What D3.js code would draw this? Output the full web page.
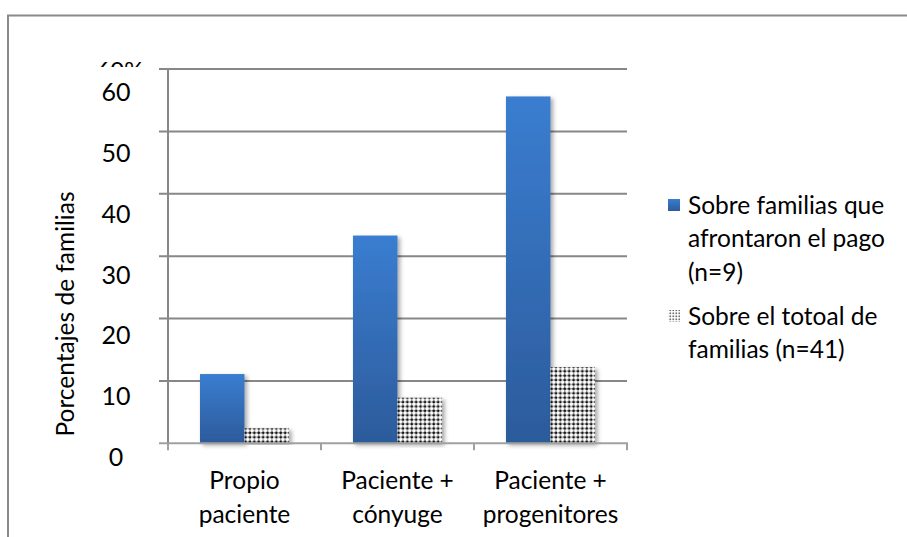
<!DOCTYPE html>
<html>
<head>
<meta charset="utf-8">
<script src="https://cdn.jsdelivr.net/npm/d3@7"></script>
<style>
  html, body { margin: 0; padding: 0; background: #fff; }
  svg { display: block; }
  text { font-family: Lato, "Liberation Sans", sans-serif; fill: #000; }
</style>
</head>
<body>
<svg id="chart" width="907" height="537"></svg>
<script>
// Data
const categories = [["Propio", "paciente"], ["Paciente +", "cónyuge"], ["Paciente +", "progenitores"]];
const pagoValues = [11.1, 33.3, 55.6];     // % of families that paid (n=9)
const totalValues = [2.4, 7.3, 12.2];      // % of all families (n=41)
const seriesLabels = [
  ["Sobre familias que", "afrontaron el pago", "(n=9)"],
  ["Sobre el totoal de", "familias (n=41)"]
];
const yTicks = [0, 10, 20, 30, 40, 50, 60];
const yTitle = "Porcentajes de familias";

const svg = d3.select("#chart");
const defs = svg.append("defs");

// Blue bar gradient
const grad = defs.append("linearGradient").attr("id", "blueGrad")
  .attr("x1", 0).attr("y1", 0).attr("x2", 0).attr("y2", 1);
grad.append("stop").attr("offset", "0%").attr("stop-color", "#3a7dd0");
grad.append("stop").attr("offset", "100%").attr("stop-color", "#2c5b9b");

// Dotted fill for the second series
const pat = defs.append("pattern").attr("id", "dots")
  .attr("patternUnits", "userSpaceOnUse").attr("width", 4.4).attr("height", 4.4);
pat.append("rect").attr("width", 4.4).attr("height", 4.4).attr("fill", "#fff");
pat.append("circle").attr("cx", 1.6).attr("cy", 1.6).attr("r", 1.45).attr("fill", "#151515");
pat.append("rect").attr("x", 3.3).attr("y", 1.1).attr("width", 1.1).attr("height", 1).attr("fill", "#8c8c8c");
pat.append("rect").attr("x", 1.1).attr("y", 3.3).attr("width", 1).attr("height", 1.1).attr("fill", "#8c8c8c");

// Lighter dotted swatch for the legend
const patL = defs.append("pattern").attr("id", "dotsLegend")
  .attr("patternUnits", "userSpaceOnUse").attr("width", 3).attr("height", 3);
patL.append("rect").attr("width", 3).attr("height", 3).attr("fill", "#fff");
patL.append("rect").attr("x", 0.5).attr("y", 0.5).attr("width", 1.6).attr("height", 1.6).attr("fill", "#6a6a6a");

// Soft shadow behind bars
const shadow = defs.append("filter").attr("id", "shadow")
  .attr("x", "-20%").attr("y", "-5%").attr("width", "150%").attr("height", "115%");
shadow.append("feDropShadow").attr("dx", 2.5).attr("dy", 2).attr("stdDeviation", 2)
  .attr("flood-color", "#000").attr("flood-opacity", 0.35);

// Clip for the partially hidden label above the axis
defs.append("clipPath").attr("id", "topClip")
  .append("rect").attr("x", 0).attr("y", 0).attr("width", 907).attr("height", 67);

// Outer frame
svg.append("path")
  .attr("d", "M8,540 L8,15.5 L910,15.5")
  .attr("fill", "none").attr("stroke", "#8a8a8a").attr("stroke-width", 2);

// Scales
const x = d3.scaleBand().domain(d3.range(categories.length))
  .range([168, 627]).paddingInner(0.418).paddingOuter(0.209);
const xs = d3.scaleBand().domain([0, 1]).range([0, x.bandwidth()]);
const y = d3.scaleLinear().domain([0, 60]).range([443.3, 69]);
const yLabel = d3.scaleLinear().domain([0, 60]).range([457, 92.5]);

const gridColor = "#878787";

// Gridlines
svg.append("g").selectAll("line").data(yTicks.filter(d => d > 0)).join("line")
  .attr("x1", 159).attr("x2", 627)
  .attr("y1", d => y(d)).attr("y2", d => y(d))
  .attr("stroke", gridColor).attr("stroke-width", 2);

// Bars
const groups = svg.append("g").selectAll("g").data(categories).join("g")
  .attr("transform", (d, i) => `translate(${x(i)},0)`);
groups.append("rect")
  .attr("x", xs(0)).attr("width", xs.bandwidth())
  .attr("y", (d, i) => y(pagoValues[i]))
  .attr("height", (d, i) => y(0) - y(pagoValues[i]))
  .attr("fill", "url(#blueGrad)").attr("filter", "url(#shadow)");
groups.append("rect")
  .attr("x", xs(1)).attr("width", xs.bandwidth())
  .attr("y", (d, i) => y(totalValues[i]))
  .attr("height", (d, i) => y(0) - y(totalValues[i]))
  .attr("fill", "url(#dots)").attr("filter", "url(#shadow)");

// Axes lines
svg.append("line").attr("x1", 168).attr("x2", 168).attr("y1", y(60)).attr("y2", y(0) + 1)
  .attr("stroke", gridColor).attr("stroke-width", 2);
svg.append("line").attr("x1", 159).attr("x2", 628).attr("y1", y(0)).attr("y2", y(0))
  .attr("stroke", "#a0a0a0").attr("stroke-width", 2);
const catEdges = d3.range(categories.length + 1).map(i => 168 + i * x.step());
svg.append("g").selectAll("line").data(catEdges).join("line")
  .attr("x1", d => d).attr("x2", d => d).attr("y1", y(0)).attr("y2", y(0) + 7)
  .attr("stroke", "#a0a0a0").attr("stroke-width", 2);

// Y tick labels
svg.append("g").selectAll("text").data(yTicks).join("text")
  .attr("x", 116).attr("y", d => yLabel(d)).attr("dy", "0.35em")
  .attr("text-anchor", "middle").attr("font-size", 25)
  .text(d => d);

// Partially hidden label at the top
svg.append("text").attr("clip-path", "url(#topClip)")
  .attr("x", 120).attr("y", 79).attr("text-anchor", "middle").attr("font-size", 24)
  .text("60%");

// Y axis title
svg.append("text")
  .attr("transform", "translate(74,314) rotate(-90)")
  .attr("text-anchor", "middle").attr("font-size", 24.5)
  .text(yTitle);

// Category labels
const catText = svg.append("g").selectAll("text").data(categories).join("text")
  .attr("text-anchor", "middle").attr("font-size", 24.5)
  .attr("transform", (d, i) => `translate(${x(i) + x.bandwidth() / 2},0)`);
catText.selectAll("tspan").data(d => d).join("tspan")
  .attr("x", 0).attr("y", (d, j) => 489 + j * 34)
  .text(d => d);

// Legend
const legend = svg.append("g");
const legendY = [205, 316];
legend.selectAll("rect").data(seriesLabels).join("rect")
  .attr("x", 668).attr("y", (d, i) => legendY[i] - 6).attr("width", 12).attr("height", 12)
  .attr("fill", (d, i) => i === 0 ? "url(#blueGrad)" : "url(#dotsLegend)");
const legText = legend.selectAll("text").data(seriesLabels).join("text")
  .attr("font-size", 24.5);
legText.selectAll("tspan").data((d, i) => d.map(t => ({ t, i }))).join("tspan")
  .attr("x", 688)
  .attr("y", (d, j) => legendY[d.i] + j * 33.5)
  .attr("dy", "0.35em")
  .text(d => d.t);
</script>
</body>
</html>
